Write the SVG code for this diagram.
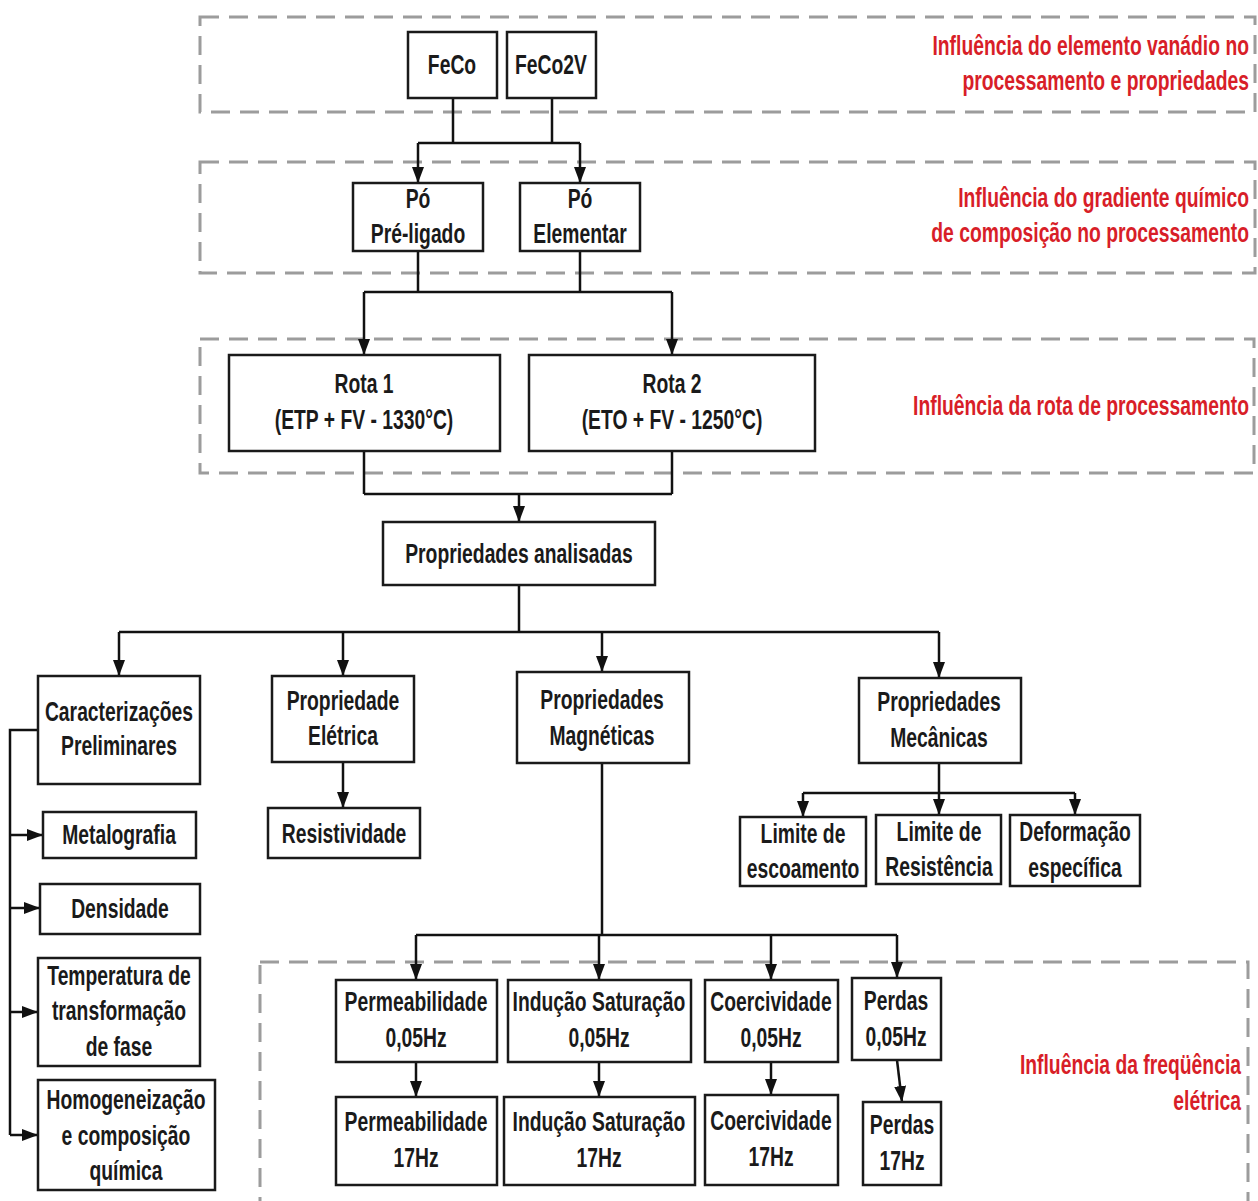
<svg xmlns="http://www.w3.org/2000/svg" width="1258" height="1201" viewBox="0 0 1258 1201">
<style>
.region{fill:none;stroke:#9c9c9c;stroke-width:3;stroke-dasharray:19 10}
.box{fill:#fff;stroke:#1a1a1a;stroke-width:2.5}
.t{font-family:"Liberation Sans",Arial,sans-serif;font-weight:bold;font-size:28px;fill:#1a1a1a;text-anchor:middle}
.r{font-family:"Liberation Sans",Arial,sans-serif;font-weight:bold;font-size:28px;fill:#d81e28;text-anchor:end}
.c{fill:none;stroke:#111;stroke-width:2.5}
.a{fill:none;stroke:#111;stroke-width:2.5;marker-end:url(#arr)}
</style>
<defs>
<marker id="arr" viewBox="0 0 16 12" refX="16" refY="6" markerWidth="16" markerHeight="12" markerUnits="userSpaceOnUse" orient="auto">
<path d="M0,0 L16,6 L0,12 z" fill="#111"/>
</marker>
</defs>
<rect width="1258" height="1201" fill="#fff"/>

<g id="regions">
<rect class="region" x="200" y="17" width="1055" height="95"/>
<rect class="region" x="200" y="162" width="1055" height="111"/>
<rect class="region" x="200" y="339" width="1054" height="134"/>
<rect class="region" x="260" y="962" width="988" height="270"/>
<text class="r" transform="matrix(.69 0 0 1 1249 55)">Influência do elemento vanádio no</text>
<text class="r" transform="matrix(.69 0 0 1 1249 90)">processamento e propriedades</text>
<text class="r" transform="matrix(.69 0 0 1 1249 207)">Influência do gradiente químico</text>
<text class="r" transform="matrix(.69 0 0 1 1249 242)">de composição no processamento</text>
<text class="r" transform="matrix(.69 0 0 1 1249 415)">Influência da rota de processamento</text>
<text class="r" transform="matrix(.69 0 0 1 1241 1074)">Influência da freqüência</text>
<text class="r" transform="matrix(.69 0 0 1 1241 1110)">elétrica</text>
</g>

<g id="connectors">
<path class="c" d="M453,98 V143 M552,98 V143 M418,143 H580"/>
<path class="a" d="M418,143 V183"/>
<path class="a" d="M580,143 V183"/>
<path class="c" d="M418,251 V292 M580,251 V292 M364,292 H672"/>
<path class="a" d="M364,292 V355"/>
<path class="a" d="M672,292 V355"/>
<path class="c" d="M364,451 V494 M672,451 V494 M364,494 H672"/>
<path class="a" d="M519,494 V522"/>
<path class="c" d="M519,585 V632 M119,632 H939"/>
<path class="a" d="M119,632 V676"/>
<path class="a" d="M343,632 V676"/>
<path class="a" d="M602,632 V672"/>
<path class="a" d="M939,632 V678"/>
<path class="c" d="M38,730 H10 V1135"/>
<path class="a" d="M10,835 H43"/>
<path class="a" d="M10,908 H40"/>
<path class="a" d="M10,1012 H38"/>
<path class="a" d="M10,1135 H38"/>
<path class="a" d="M343,762 V808"/>
<path class="c" d="M602,763 V935 M416,935 H897"/>
<path class="a" d="M416,935 V980"/>
<path class="a" d="M599,935 V980"/>
<path class="a" d="M771,935 V980"/>
<path class="a" d="M897,935 V978"/>
<path class="a" d="M416,1062 V1097"/>
<path class="a" d="M599,1062 V1097"/>
<path class="a" d="M771,1062 V1095"/>
<path class="a" d="M897,1060 L902,1102"/>
<path class="c" d="M939,763 V793 M803,793 H1075"/>
<path class="a" d="M803,793 V817"/>
<path class="a" d="M939,793 V815"/>
<path class="a" d="M1075,793 V815"/>
</g>

<g id="n-feco"><rect class="box" x="408" y="32" width="89" height="66"/><text class="t" transform="matrix(.69 0 0 1 452 74)">FeCo</text></g>
<g id="n-feco2v"><rect class="box" x="507" y="32" width="89" height="66"/><text class="t" transform="matrix(.69 0 0 1 551 74)">FeCo2V</text></g>
<g id="n-pre"><rect class="box" x="353" y="183" width="130" height="68"/><text class="t" transform="matrix(.69 0 0 1 418 208)">Pó</text><text class="t" transform="matrix(.69 0 0 1 418 243)">Pré-ligado</text></g>
<g id="n-elem"><rect class="box" x="520" y="183" width="120" height="68"/><text class="t" transform="matrix(.69 0 0 1 580 208)">Pó</text><text class="t" transform="matrix(.69 0 0 1 580 243)">Elementar</text></g>
<g id="n-rota1"><rect class="box" x="229" y="355" width="271" height="96"/><text class="t" transform="matrix(.69 0 0 1 364 393)">Rota 1</text><text class="t" transform="matrix(.69 0 0 1 364 429)">(ETP + FV - 1330°C)</text></g>
<g id="n-rota2"><rect class="box" x="529" y="355" width="286" height="96"/><text class="t" transform="matrix(.69 0 0 1 672 393)">Rota 2</text><text class="t" transform="matrix(.69 0 0 1 672 429)">(ETO + FV - 1250°C)</text></g>
<g id="n-prop"><rect class="box" x="383" y="522" width="272" height="63"/><text class="t" transform="matrix(.69 0 0 1 519 563)">Propriedades analisadas</text></g>

<g id="n-carac"><rect class="box" x="38" y="676" width="162" height="108"/><text class="t" transform="matrix(.69 0 0 1 119 721)">Caracterizações</text><text class="t" transform="matrix(.69 0 0 1 119 755)">Preliminares</text></g>
<g id="n-metal"><rect class="box" x="43" y="812" width="153" height="46"/><text class="t" transform="matrix(.69 0 0 1 119 844)">Metalografia</text></g>
<g id="n-dens"><rect class="box" x="40" y="884" width="160" height="50"/><text class="t" transform="matrix(.69 0 0 1 120 918)">Densidade</text></g>
<g id="n-temp"><rect class="box" x="38" y="958" width="162" height="108"/><text class="t" transform="matrix(.69 0 0 1 119 985)">Temperatura de</text><text class="t" transform="matrix(.69 0 0 1 119 1020)">transformação</text><text class="t" transform="matrix(.69 0 0 1 119 1056)">de fase</text></g>
<g id="n-homog"><rect class="box" x="38" y="1080" width="177" height="110"/><text class="t" transform="matrix(.69 0 0 1 126 1109)">Homogeneização</text><text class="t" transform="matrix(.69 0 0 1 126 1145)">e composição</text><text class="t" transform="matrix(.69 0 0 1 126 1180)">química</text></g>

<g id="n-elet"><rect class="box" x="272" y="676" width="142" height="86"/><text class="t" transform="matrix(.69 0 0 1 343 710)">Propriedade</text><text class="t" transform="matrix(.69 0 0 1 343 745)">Elétrica</text></g>
<g id="n-resist"><rect class="box" x="268" y="808" width="152" height="50"/><text class="t" transform="matrix(.69 0 0 1 344 843)">Resistividade</text></g>
<g id="n-magn"><rect class="box" x="517" y="672" width="172" height="91"/><text class="t" transform="matrix(.69 0 0 1 602 709)">Propriedades</text><text class="t" transform="matrix(.69 0 0 1 602 745)">Magnéticas</text></g>
<g id="n-mec"><rect class="box" x="859" y="678" width="162" height="85"/><text class="t" transform="matrix(.69 0 0 1 939 711)">Propriedades</text><text class="t" transform="matrix(.69 0 0 1 939 747)">Mecânicas</text></g>

<g id="n-esc"><rect class="box" x="740" y="817" width="126" height="69"/><text class="t" transform="matrix(.69 0 0 1 803 843)">Limite de</text><text class="t" transform="matrix(.69 0 0 1 803 878)">escoamento</text></g>
<g id="n-res"><rect class="box" x="876" y="815" width="125" height="69"/><text class="t" transform="matrix(.69 0 0 1 939 841)">Limite de</text><text class="t" transform="matrix(.69 0 0 1 939 876)">Resistência</text></g>
<g id="n-def"><rect class="box" x="1010" y="815" width="130" height="71"/><text class="t" transform="matrix(.69 0 0 1 1075 841)">Deformação</text><text class="t" transform="matrix(.69 0 0 1 1075 877)">específica</text></g>

<g id="n-perm1"><rect class="box" x="336" y="980" width="161" height="82"/><text class="t" transform="matrix(.69 0 0 1 416 1011)">Permeabilidade</text><text class="t" transform="matrix(.69 0 0 1 416 1047)">0,05Hz</text></g>
<g id="n-ind1"><rect class="box" x="508" y="980" width="183" height="82"/><text class="t" transform="matrix(.69 0 0 1 599 1011)">Indução Saturação</text><text class="t" transform="matrix(.69 0 0 1 599 1047)">0,05Hz</text></g>
<g id="n-coer1"><rect class="box" x="705" y="980" width="133" height="82"/><text class="t" transform="matrix(.69 0 0 1 771 1011)">Coercividade</text><text class="t" transform="matrix(.69 0 0 1 771 1047)">0,05Hz</text></g>
<g id="n-perd1"><rect class="box" x="852" y="978" width="89" height="82"/><text class="t" transform="matrix(.69 0 0 1 896 1010)">Perdas</text><text class="t" transform="matrix(.69 0 0 1 896 1046)">0,05Hz</text></g>

<g id="n-perm2"><rect class="box" x="336" y="1097" width="161" height="88"/><text class="t" transform="matrix(.69 0 0 1 416 1131)">Permeabilidade</text><text class="t" transform="matrix(.69 0 0 1 416 1167)">17Hz</text></g>
<g id="n-ind2"><rect class="box" x="504" y="1097" width="191" height="88"/><text class="t" transform="matrix(.69 0 0 1 599 1131)">Indução Saturação</text><text class="t" transform="matrix(.69 0 0 1 599 1167)">17Hz</text></g>
<g id="n-coer2"><rect class="box" x="705" y="1095" width="133" height="90"/><text class="t" transform="matrix(.69 0 0 1 771 1130)">Coercividade</text><text class="t" transform="matrix(.69 0 0 1 771 1166)">17Hz</text></g>
<g id="n-perd2"><rect class="box" x="863" y="1102" width="78" height="83"/><text class="t" transform="matrix(.69 0 0 1 902 1134)">Perdas</text><text class="t" transform="matrix(.69 0 0 1 902 1170)">17Hz</text></g>
</svg>
